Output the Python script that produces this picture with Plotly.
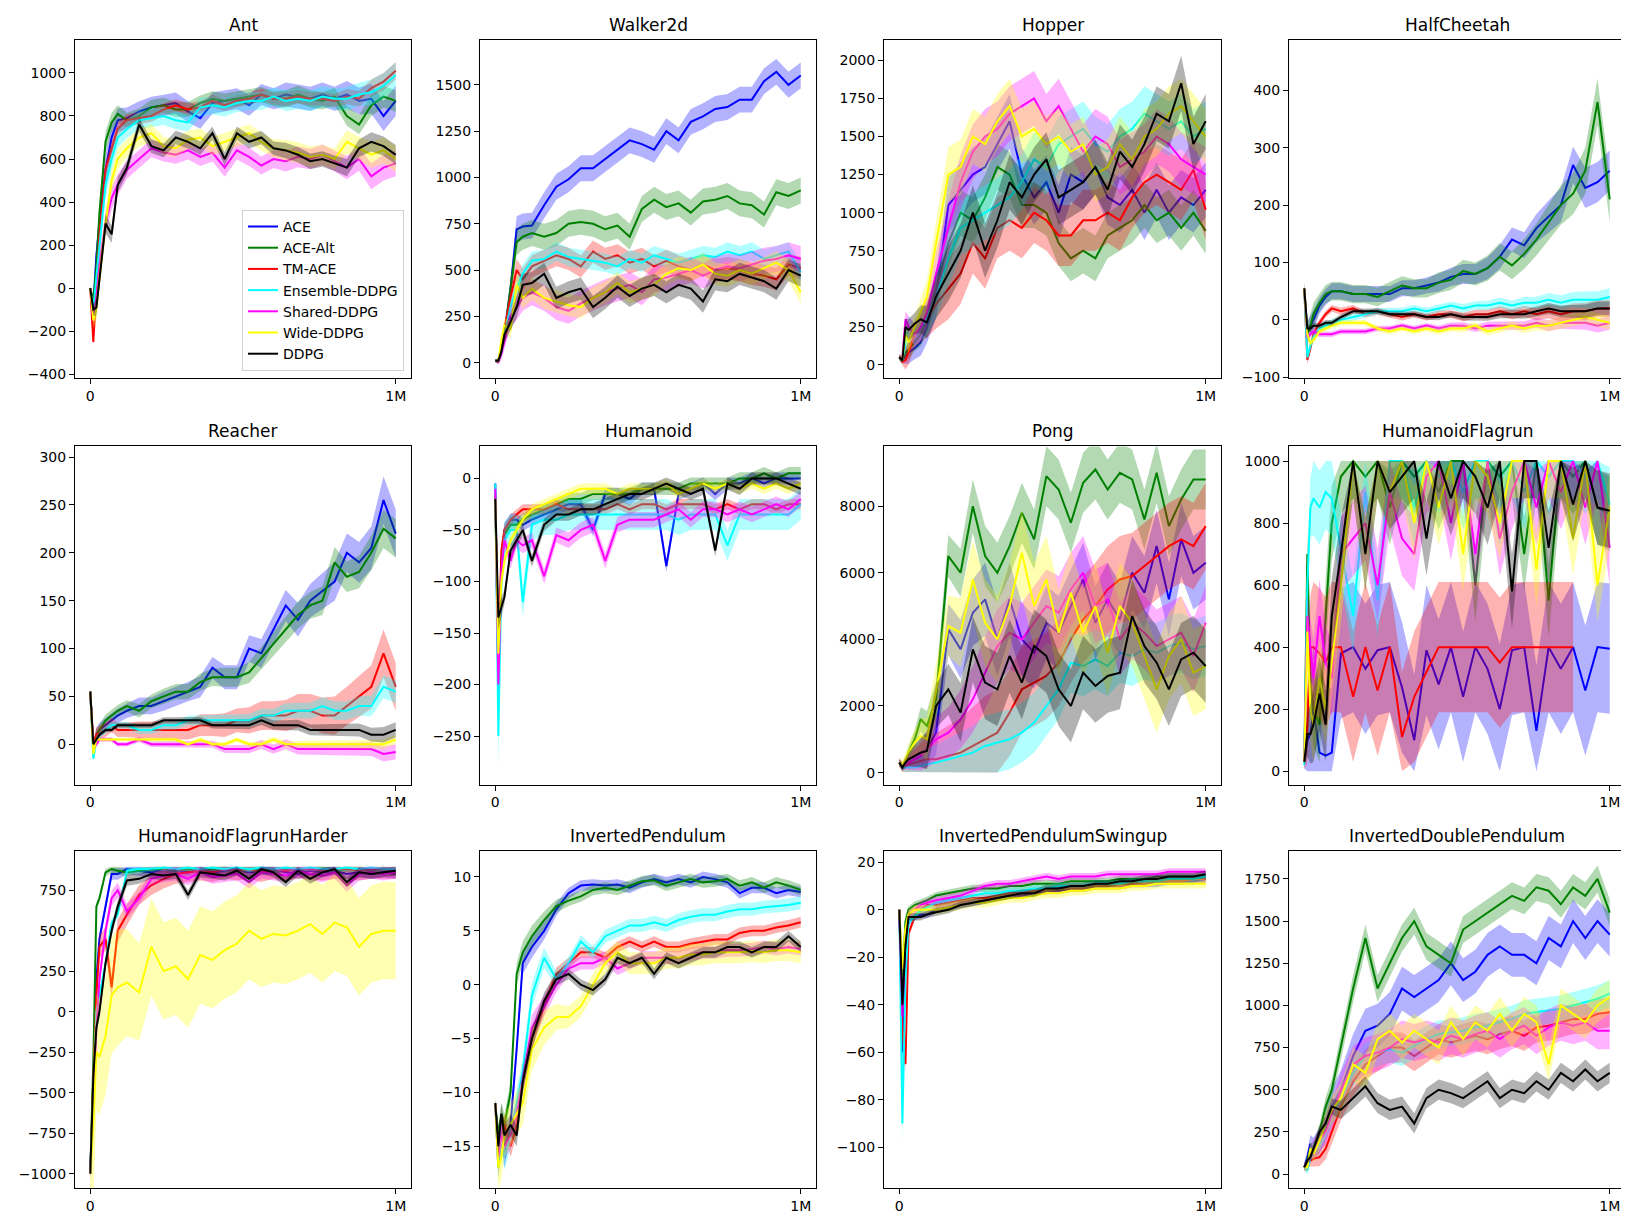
import plotly.graph_objects as go
from plotly.subplots import make_subplots

# passos de treino onde cada curva foi lida
STEPS = [0, 10000, 20000, 30000, 50000, 70000, 90000, 120000, 160000, 200000,
         240000, 280000, 320000, 360000, 400000, 440000, 480000, 520000, 560000, 600000,
         640000, 680000, 720000, 760000, 800000, 840000, 880000, 920000, 960000, 1000000]

SERIES = ["ACE", "ACE-Alt", "TM-ACE", "Ensemble-DDPG", "Shared-DDPG", "Wide-DDPG", "DDPG"]
COLORS = [(0, 0, 255), (0, 128, 0), (255, 0, 0), (0, 255, 255), (255, 0, 255), (255, 255, 0), (0, 0, 0)]

# ---- curvas médias (ordem: SERIES) ----
ANT = [
    [0, -80, 150, 300, 550, 700, 780, 790, 820, 840, 850, 860, 820, 790, 860, 870, 880, 850, 900, 880, 900, 890, 880, 900, 880, 900, 870, 880, 800, 870],
    [0, -60, 100, 350, 680, 770, 810, 780, 800, 840, 850, 830, 830, 860, 880, 870, 880, 890, 900, 880, 880, 900, 880, 870, 890, 800, 760, 850, 890, 870],
    [0, -250, 0, 250, 550, 650, 740, 780, 790, 800, 830, 850, 830, 840, 870, 850, 870, 880, 900, 880, 880, 890, 880, 880, 870, 890, 880, 930, 960, 1010],
    [0, -100, 50, 200, 480, 600, 700, 740, 780, 790, 800, 780, 770, 840, 850, 840, 860, 870, 870, 890, 870, 880, 870, 890, 880, 880, 900, 910, 940, 990],
    [0, -150, -50, 100, 300, 420, 480, 550, 600, 650, 630, 620, 640, 610, 630, 560, 640, 610, 570, 600, 590, 610, 600, 620, 590, 560, 600, 520, 560, 580],
    [0, -150, -100, 50, 300, 500, 600, 650, 700, 720, 660, 650, 690, 700, 660, 680, 700, 720, 680, 650, 640, 630, 610, 620, 600, 680, 650, 620, 640, 600],
    [0, -100, -90, 40, 300, 250, 480, 560, 760, 660, 640, 700, 680, 650, 720, 600, 720, 680, 700, 650, 640, 620, 590, 600, 580, 560, 650, 680, 660, 620],
]
WALKER = [
    [10, 10, 80, 150, 400, 720, 735, 740, 850, 950, 990, 1050, 1050, 1100, 1150, 1200, 1180, 1150, 1250, 1200, 1300, 1330, 1370, 1380, 1420, 1420, 1520, 1570, 1500, 1550],
    [10, 10, 80, 150, 400, 650, 680, 700, 680, 700, 750, 760, 750, 720, 740, 680, 830, 880, 840, 860, 810, 870, 880, 900, 860, 850, 800, 920, 900, 930],
    [10, 5, 80, 180, 350, 500, 450, 520, 550, 580, 560, 520, 600, 560, 580, 540, 560, 520, 550, 520, 500, 530, 500, 510, 500, 480, 470, 450, 530, 510],
    [10, 5, 60, 150, 300, 400, 480, 550, 560, 600, 570, 560, 550, 540, 520, 560, 540, 580, 560, 540, 560, 580, 570, 600, 580, 600, 560, 580, 600, 490],
    [10, 5, 50, 120, 250, 300, 350, 380, 350, 300, 280, 320, 350, 380, 400, 420, 380, 450, 460, 480, 500, 470, 500, 520, 510, 530, 550, 560, 580, 560],
    [10, 10, 120, 200, 180, 420, 350, 400, 350, 330, 310, 300, 350, 380, 430, 380, 400, 420, 480, 510, 500, 530, 480, 470, 500, 480, 510, 540, 500, 380],
    [10, 10, 60, 150, 220, 300, 420, 430, 480, 350, 380, 400, 300, 350, 410, 360, 400, 420, 380, 420, 400, 330, 450, 440, 480, 460, 440, 400, 500, 470],
]
HOPPER = [
    [50, 30, 60, 80, 110, 150, 250, 450, 1050, 1150, 1250, 1300, 1450, 1600, 1250, 1100, 1200, 1000, 1250, 1200, 1300, 1100, 1050, 1150, 1000, 1150, 1000, 1100, 1050, 1150],
    [50, 30, 80, 100, 150, 200, 300, 500, 800, 1000, 950, 1100, 1300, 1250, 1050, 1050, 1000, 800, 700, 750, 700, 850, 900, 950, 1050, 950, 1000, 900, 1000, 880],
    [50, 20, 30, 80, 200, 250, 300, 400, 500, 600, 800, 700, 900, 950, 900, 1000, 950, 850, 850, 950, 950, 1000, 950, 1100, 1200, 1250, 1200, 1150, 1280, 1020],
    [50, 30, 150, 250, 200, 250, 300, 450, 700, 900, 950, 1000, 1050, 1100, 1200, 1350, 1300, 1450, 1500, 1550, 1450, 1400, 1500, 1550, 1650, 1600, 1550, 1600, 1500, 1550],
    [50, 50, 300, 250, 200, 250, 350, 600, 900, 1200, 1400, 1500, 1550, 1650, 1700, 1750, 1600, 1700, 1550, 1400, 1500, 1450, 1300, 1350, 1400, 1500, 1450, 1350, 1300, 1250],
    [50, 40, 200, 150, 250, 350, 450, 800, 1250, 1300, 1500, 1450, 1600, 1700, 1500, 1550, 1450, 1500, 1400, 1450, 1250, 1300, 1450, 1350, 1500, 1550, 1650, 1700, 1600, 1500],
    [50, 30, 250, 230, 270, 300, 280, 450, 600, 750, 1000, 750, 950, 1200, 1100, 1250, 1350, 1100, 1150, 1200, 1300, 1150, 1400, 1300, 1450, 1650, 1600, 1850, 1450, 1600],
]
HALFCHEETAH = [
    [55, -20, -10, 0, 25, 40, 50, 50, 45, 45, 45, 45, 55, 55, 60, 65, 75, 80, 80, 90, 110, 140, 130, 160, 180, 200, 270, 230, 240, 260],
    [55, -25, -10, 10, 30, 45, 50, 50, 45, 45, 40, 50, 60, 55, 55, 65, 70, 85, 80, 90, 110, 95, 115, 140, 170, 200, 220, 260, 380, 210],
    [55, -70, -50, -25, -5, 10, 20, 15, 20, 10, 15, 10, 5, 10, 5, 10, 10, 5, 10, 10, 15, 10, 15, 10, 15, 10, 15, 15, 20, 20],
    [55, -65, -45, -30, -15, -10, -5, 0, 5, 10, 15, 15, 15, 20, 15, 20, 25, 20, 25, 25, 30, 25, 30, 30, 35, 30, 35, 35, 35, 40],
    [55, -30, -25, -20, -25, -25, -25, -20, -20, -20, -15, -15, -10, -15, -10, -15, -10, -10, -15, -10, -10, -10, -10, -5, -10, -5, -5, -5, -10, -5],
    [55, -25, -40, -35, -20, -15, -10, -5, -5, -5, -15, -20, -15, -20, -15, -20, -15, -15, -10, -20, -15, -10, -15, -10, -10, -5, 0, 5, 0, -5],
    [55, -15, -15, -10, -10, -5, -5, 5, 15, 15, 15, 10, 10, 10, 5, 5, 10, 5, 5, 5, 10, 10, 10, 15, 20, 15, 15, 15, 20, 20],
]
REACHER = [
    [55, -5, 10, 15, 20, 25, 30, 35, 40, 40, 45, 50, 55, 60, 80, 70, 70, 100, 95, 120, 145, 130, 150, 160, 170, 200, 190, 205, 255, 220],
    [55, -5, 10, 15, 25, 30, 35, 40, 35, 45, 50, 55, 55, 65, 70, 70, 70, 75, 90, 105, 120, 135, 145, 150, 190, 175, 180, 200, 225, 215],
    [55, 0, 10, 12, 15, 20, 15, 15, 15, 15, 15, 15, 15, 20, 20, 20, 25, 25, 30, 30, 30, 35, 35, 30, 30, 40, 50, 60, 95, 60],
    [55, -15, 5, 10, 15, 20, 20, 20, 15, 15, 20, 20, 25, 25, 25, 25, 25, 25, 30, 30, 35, 35, 35, 40, 35, 35, 40, 40, 60, 55],
    [55, -5, 0, 5, 5, 5, 0, 0, 5, 0, 0, 0, 0, 0, 0, -5, -5, -5, 0, -5, 0, -5, -5, -5, -5, -5, -5, -5, -10, -8],
    [55, -10, 5, 5, 5, 5, 5, 5, 5, 5, 5, 5, 0, 5, 0, 0, 5, 0, 0, 5, 0, 0, 0, 0, 0, 0, 0, 0, 0, 5],
    [55, 0, 5, 10, 15, 15, 20, 20, 20, 20, 25, 25, 25, 25, 20, 20, 20, 20, 25, 20, 20, 20, 15, 15, 15, 15, 15, 10, 10, 15],
]
HUMANOID = [
    [-5, -200, -80, -50, -40, -40, -45, -40, -35, -30, -25, -25, -50, -15, -15, -20, -10, -10, -85, -15, -10, -5, -15, -5, -5, 0, -5, 0, 0, 0],
    [-20, -180, -80, -55, -45, -45, -40, -35, -30, -25, -20, -20, -15, -15, -15, -15, -10, -10, -10, -10, -5, -5, -5, -5, 0, 0, 5, 0, 5, 5],
    [-15, -180, -70, -50, -40, -35, -30, -30, -30, -25, -30, -30, -30, -30, -25, -30, -25, -25, -30, -25, -25, -25, -30, -25, -30, -25, -25, -30, -25, -25],
    [-5, -250, -100, -60, -50, -50, -120, -45, -40, -40, -35, -35, -35, -35, -35, -35, -35, -35, -35, -40, -35, -35, -35, -65, -35, -35, -35, -35, -35, -25],
    [-10, -200, -90, -60, -80, -60, -65, -60, -95, -55, -60, -50, -45, -80, -45, -40, -40, -40, -35, -30, -40, -30, -30, -35, -30, -35, -30, -25, -30, -20],
    [-20, -170, -100, -80, -60, -50, -40, -30, -25, -20, -15, -10, -10, -10, -15, -10, -10, -10, -5, -15, -10, -5, -10, -5, -10, -5, -10, -5, -10, -5],
    [-20, -135, -125, -115, -70, -60, -50, -80, -45, -35, -35, -30, -30, -25, -20, -15, -15, -10, -5, -10, -15, -10, -70, -5, -10, 0, 0, 0, -5, -10],
]
PONG = [
    [300, 200, 300, 400, 500, 600, 700, 1200, 4300, 3700, 4800, 5200, 4000, 5200, 4000, 3600, 4500, 4200, 5000, 5800, 4500, 5200, 4600, 6000, 5400, 6800, 5200, 7000, 6000, 6300],
    [300, 200, 300, 600, 1000, 1600, 1400, 2200, 6500, 6000, 8000, 6500, 6000, 6800, 7800, 7000, 8900, 8500, 7500, 8700, 9100, 8500, 9000, 8800, 7600, 9000, 7400, 8200, 8800, 8800],
    [300, 150, 200, 250, 300, 350, 400, 400, 500, 600, 800, 1000, 1200, 1800, 2500, 2700, 2900, 3300, 4000, 4600, 5000, 5500, 5800, 5900, 6200, 6500, 6800, 7000, 6800, 7400],
    [300, 150, 150, 150, 150, 200, 250, 300, 400, 500, 600, 800, 900, 1000, 1200, 1500, 2000, 2500, 3300, 3200, 3400, 3200, 3600, 3500, 3700, 3600, 3800, 3900, 3700, 3800],
    [300, 200, 250, 300, 400, 500, 700, 1000, 1200, 1600, 2200, 3000, 3800, 4200, 4000, 4500, 5000, 4800, 5500, 6000, 5000, 5200, 4000, 4500, 4200, 3800, 4000, 4200, 3500, 4500],
    [300, 250, 400, 600, 900, 1100, 1000, 2500, 4400, 4200, 5800, 4500, 4000, 5000, 6600, 5000, 5800, 4200, 5400, 4200, 5000, 3600, 5000, 4500, 3500, 2500, 3500, 4000, 3000, 3200],
    [300, 150, 300, 400, 500, 600, 650, 2000, 2500, 1800, 3700, 2700, 2500, 3500, 2700, 3800, 3500, 2500, 2000, 3000, 2600, 2900, 3000, 4700, 3800, 3300, 2500, 3400, 3600, 3200],
]
FLAGRUN = [
    [30, 100, 120, 200, 60, 50, 60, 380, 400, 330, 390, 400, 270, 100, 390, 280, 400, 240, 400, 330, 200, 390, 400, 130, 400, 330, 400, 260, 400, 395],
    [30, 700, 300, 200, 150, 500, 800, 950, 1000, 950, 1000, 850, 1000, 950, 1000, 900, 1000, 1000, 600, 1000, 950, 1000, 700, 1000, 550, 1000, 950, 1000, 850, 830],
    [30, 150, 400, 400, 380, 350, 400, 400, 240, 400, 260, 400, 110, 240, 320, 400, 400, 400, 400, 400, 350, 400, 400, 400, 400, 400, 400, None, None, None],
    [20, 600, 850, 880, 850, 900, 880, 720, 500, 900, 550, 1000, 1000, 850, 1000, 950, 1000, 900, 1000, 1000, 850, 1000, 900, 1000, 950, 1000, 1000, 950, 1000, 860],
    [30, 500, 400, 300, 500, 350, 300, 700, 750, 800, 600, 900, 750, 700, 950, 1000, 800, 1000, 700, 1000, 750, 900, 1000, 850, 1000, 900, 1000, 850, 1000, 720],
    [30, 450, 200, 150, 300, 200, 350, 600, 1000, 700, 1000, 900, 1000, 800, 1000, 850, 1000, 700, 1000, 950, 800, 1000, 1000, 650, 1000, 1000, 750, 1000, 600, 850],
    [30, 120, 120, 150, 250, 150, 500, 700, 1000, 700, 1000, 900, 950, 1000, 750, 1000, 880, 1000, 950, 850, 1000, 580, 1000, 1000, 720, 1000, 860, 1000, 850, 840],
]
FLAGRUN_HARDER = [
    [-1000, -400, 200, 450, 650, 850, 850, 880, 870, 860, 880, 870, 860, 880, 860, 870, 880, 860, 870, 880, 860, 850, 870, 860, 870, 850, 860, 850, 860, 850],
    [-1000, -300, 650, 700, 860, 880, 870, 860, 870, 880, 880, 870, 880, 870, 880, 880, 870, 880, 880, 870, 880, 870, 880, 880, 870, 880, 880, 870, 880, 850],
    [-1000, -500, 100, 400, 450, 150, 500, 600, 720, 780, 820, 850, 860, 870, 860, 880, 870, 880, 860, 880, 870, 880, 880, 870, 880, 880, 870, 880, 880, 880],
    [-1000, -500, 0, 100, 300, 550, 600, 870, 880, 880, 890, 880, 890, 880, 890, 880, 890, 880, 890, 880, 890, 880, 890, 880, 880, 890, 880, 890, 880, 880],
    [-1000, -600, -100, 200, 500, 700, 750, 620, 700, 820, 840, 850, 820, 860, 830, 840, 850, 800, 860, 850, 840, 870, 850, 840, 860, 780, 850, 860, 850, 860],
    [-1000, -700, -250, -280, -150, 100, 150, 180, 120, 400, 250, 280, 200, 350, 320, 380, 420, 500, 450, 480, 470, 500, 540, 480, 550, 520, 400, 480, 500, 500],
    [-1000, -400, -100, 0, 300, 500, 650, 810, 820, 850, 840, 850, 720, 860, 850, 840, 870, 820, 880, 860, 800, 870, 820, 860, 880, 800, 860, 850, 860, 870],
]
PENDULUM = [
    [-11, -15, -14, -16, -13, -6, 2, 3.5, 5, 7, 8.5, 9.2, 9.3, 9.2, 9.3, 9.0, 9.5, 9.8, 9.5, 9.8, 9.5, 10.0, 9.8, 9.5, 8.5, 9.0, 9.0, 8.5, 8.8, 8.6],
    [-11, -14, -12, -13, -10, 1, 3, 4.5, 6, 7.3, 7.8, 8.2, 8.8, 9.0, 8.8, 9.2, 9.6, 9.7, 9.2, 9.5, 9.8, 9.5, 9.6, 9.8, 9.2, 9.5, 9.0, 9.5, 9.2, 8.8],
    [-11, -17, -14, -13, -15, -13, -9, -5, -2, 1, 2, 3, 3, 2.5, 3.5, 4.0, 3.5, 4.0, 3.5, 3.5, 3.8, 4.0, 4.2, 4.2, 4.8, 5.0, 5.0, 5.3, 5.5, 5.8],
    [-11, -17, -14, -16, -14, -11, -8, -1, 2.5, 0.5, 2, 4, 3, 4.5, 5.0, 5.5, 5.5, 5.8, 5.5, 6.0, 6.3, 6.5, 6.5, 6.8, 7.0, 7.0, 7.2, 7.3, 7.4, 7.6],
    [-11, -16, -14, -15, -14, -12, -9, -4, -2, 0, 1.5, 2.0, 2.0, 2.5, 1.5, 2.0, 2.5, 2.5, 2.5, 2.5, 2.8, 3.0, 3.0, 3.2, 3.2, 3.3, 3.5, 3.3, 3.5, 3.3],
    [-11, -17, -16, -14, -13, -12, -11, -6, -4, -3, -3, -2, 0, 2, 3, 2, 2, 2, 2.5, 2.5, 2.8, 2.8, 3.0, 3.0, 3.0, 3.1, 3.0, 3.2, 3.2, 3.0],
    [-11, -15, -12, -14, -13, -14, -9, -5, -1.5, 0.5, 1, 0, -0.5, 0.5, 2.5, 2, 2.5, 1, 2.5, 2, 2.5, 3, 3, 3.5, 3.5, 3.0, 3.5, 3.5, 4.5, 3.5],
]
SWINGUP = [
    [0, -60, -20, -5, -3, -2, -2, 0, 1, 2, 3, 4, 5, 6, 6, 7, 8, 8, 9, 9, 10, 10, 10, 11, 11, 11, 12, 12, 12, 13],
    [0, -30, -5, 0, 2, 3, 4, 6, 7, 8, 9, 9, 9, 10, 10, 11, 11, 11, 12, 12, 12, 12, 13, 13, 13, 14, 14, 14, 14, 14],
    [0, -50, -65, -10, -3, 0, 2, 2, 3, 4, 5, 5, 6, 7, 7, 8, 8, 9, 9, 9, 10, 10, 10, 11, 11, 12, 12, 12, 13, 13],
    [0, -90, -30, -5, -3, 0, 1, 3, 4, 5, 6, 7, 7, 8, 8, 9, 9, 10, 10, 10, 11, 11, 11, 12, 12, 12, 13, 13, 13, 14],
    [0, -45, -10, -2, 0, 2, 3, 4, 5, 6, 8, 10, 11, 11, 12, 13, 14, 13, 14, 14, 14, 15, 15, 15, 15, 15, 16, 16, 16, 16],
    [0, -25, -8, -2, 0, 0, 0, 0, 1, 2, 3, 3, 4, 5, 5, 6, 7, 7, 8, 8, 9, 9, 9, 10, 10, 11, 11, 11, 11, 11],
    [0, -40, -15, -3, -3, -3, -2, -1, 0, 2, 3, 4, 5, 6, 7, 7, 9, 9, 10, 10, 11, 11, 12, 12, 13, 13, 14, 14, 14, 15],
]
DOUBLE_PENDULUM = [
    [40, 100, 180, 150, 200, 300, 400, 500, 700, 850, 880, 950, 1100, 1050, 1100, 1150, 1250, 1150, 1200, 1300, 1350, 1300, 1300, 1250, 1400, 1350, 1500, 1400, 1500, 1420],
    [40, 80, 150, 150, 250, 400, 500, 750, 1100, 1400, 1100, 1250, 1400, 1500, 1350, 1300, 1250, 1450, 1500, 1550, 1600, 1650, 1620, 1700, 1680, 1600, 1700, 1650, 1750, 1550],
    [40, 60, 80, 90, 100, 150, 250, 400, 550, 650, 700, 750, 750, 700, 750, 800, 780, 800, 820, 800, 830, 850, 820, 870, 880, 900, 920, 920, 950, 960],
    [40, 20, 100, 150, 180, 250, 350, 450, 600, 700, 720, 740, 720, 760, 800, 830, 840, 850, 870, 880, 900, 920, 950, 960, 970, 980, 1000, 1020, 1040, 1070],
    [40, 50, 120, 150, 200, 250, 350, 500, 650, 700, 720, 750, 800, 780, 800, 780, 820, 800, 830, 850, 800, 850, 880, 820, 870, 900, 880, 900, 850, 850],
    [40, 40, 150, 120, 200, 300, 380, 450, 650, 600, 800, 850, 780, 850, 800, 750, 900, 800, 900, 850, 950, 850, 950, 900, 650, 1000, 950, 900, 1000, 1050],
    [40, 80, 100, 150, 250, 300, 400, 380, 450, 520, 420, 380, 400, 300, 450, 500, 480, 450, 500, 550, 450, 500, 480, 550, 500, 600, 550, 620, 550, 600],
]

# ---- largura relativa da faixa ao longo do treino, e meia-largura de cada série ----
SPREAD_ANT = [0.1, 0.6, 0.9, 1, 1, 0.9, 0.8, 0.7, 0.7, 0.7, 0.7, 0.7, 0.7, 0.7, 0.7, 0.7, 0.7, 0.7, 0.7, 0.7, 0.8, 0.8, 0.8, 0.8, 0.8, 0.9, 0.9, 1, 1, 1]
SPREAD_WALKER = [0.1, 0.2, 0.5, 0.7, 0.8, 1, 1, 1, 1, 1, 1, 1, 1, 1, 1, 1, 1, 1, 1, 1, 1, 1, 1, 1, 1, 1, 1, 1, 1, 1]
SPREAD_HOPPER = [0.1, 0.1, 0.3, 0.4, 0.4, 0.5, 0.6, 0.8, 1, 1, 1, 1, 1, 1, 1, 1, 1, 1, 1, 1, 1, 1, 1, 1, 1, 1, 1, 1, 1, 1]
SPREAD_HALFCHEETAH = [0.3, 0.5, 0.5, 0.5, 0.4, 0.4, 0.4, 0.4, 0.4, 0.4, 0.4, 0.4, 0.4, 0.4, 0.4, 0.45, 0.45, 0.5, 0.5, 0.55, 0.6, 0.6, 0.65, 0.7, 0.8, 0.85, 0.9, 1, 1, 1]
SPREAD_REACHER = [0.1, 0.2, 0.3, 0.3, 0.3, 0.3, 0.3, 0.3, 0.35, 0.35, 0.4, 0.4, 0.4, 0.45, 0.45, 0.5, 0.5, 0.55, 0.6, 0.6, 0.65, 0.7, 0.7, 0.75, 0.8, 0.8, 0.85, 0.9, 1, 1]
SPREAD_HUMANOID = [0.5, 1, 0.8, 0.6, 0.5, 0.5, 0.5, 0.5, 0.5, 0.5, 0.5, 0.5, 0.5, 0.5, 0.5, 0.5, 0.5, 0.5, 0.5, 0.5, 0.5, 0.5, 0.5, 0.5, 0.5, 0.5, 0.5, 0.5, 0.5, 0.5]
SPREAD_PONG = [0.1, 0.1, 0.15, 0.2, 0.3, 0.4, 0.5, 0.6, 0.7, 0.8, 0.9, 1, 1, 1, 1, 1, 1, 1, 1, 1, 1, 1, 1, 1, 1, 1, 1, 1, 1, 1]
SPREAD_FLAGRUN = [0.1, 0.6, 0.8, 1, 1, 1, 1, 1, 1, 1, 1, 1, 1, 1, 1, 1, 1, 1, 1, 1, 1, 1, 1, 1, 1, 1, 1, 1, 1, 1]
SPREAD_FLAGRUN_HARDER = [0.5, 0.8, 0.6, 0.6, 0.6, 0.6, 0.6, 0.55, 0.5, 0.5, 0.5, 0.5, 0.5, 0.5, 0.5, 0.5, 0.5, 0.5, 0.5, 0.5, 0.5, 0.5, 0.5, 0.5, 0.5, 0.5, 0.5, 0.5, 0.5, 0.5]
SPREAD_PENDULUM = [0.3, 1, 1, 1, 1, 1, 1, 1, 0.8, 0.6, 0.5, 0.5, 0.5, 0.5, 0.5, 0.5, 0.5, 0.5, 0.5, 0.5, 0.5, 0.5, 0.5, 0.5, 0.5, 0.5, 0.5, 0.5, 0.5, 0.5]
SPREAD_SWINGUP = [0.2, 5, 2, 1, 1, 1, 1, 1, 1, 1, 1, 1, 1, 1, 1, 1, 1, 1, 1, 1, 1, 1, 1, 1, 1, 1, 1, 1, 1, 1]
SPREAD_DOUBLE = [0.2, 0.3, 0.4, 0.5, 0.6, 0.7, 0.8, 0.9, 1, 1, 1, 1, 1, 1, 1, 1, 1, 1, 1, 1, 1, 1, 1, 1, 1, 1, 1, 1, 1, 1]

HW_ANT = [70, 50, 40, 60, 60, 60, 45]
HW_WALKER = [70, 70, 60, 50, 70, 60, 60]
HW_HOPPER = [180, 150, 200, 180, 180, 180, 180]
HW_HALFCHEETAH = [35, 40, 15, 15, 12, 12, 12]
HW_REACHER = [25, 20, 25, 12, 8, 5, 8]
HW_HUMANOID = [12, 12, 10, 30, 15, 10, 12]
HW_PONG = [1100, 900, 1300, 900, 1100, 1300, 1100]
HW_FLAGRUN = [210, 120, 210, 120, 120, 120, 120]
HW_FLAGRUN_HARDER = [60, 40, 120, 40, 80, 600, 60]
HW_PENDULUM = [1.0, 1.0, 1.0, 1.2, 1.2, 2.0, 1.0]
HW_SWINGUP = [1.5, 1.5, 1.5, 1.5, 1.5, 2.0, 1.5]
HW_DOUBLE = [130, 80, 90, 80, 110, 100, 60]

# título, dados, perfil, meia-largura, faixa do eixo y, dtick, limites da faixa
PAINEIS = [
    ("Ant", ANT, SPREAD_ANT, HW_ANT, [-417, 1154], 200, None),
    ("Walker2d", WALKER, SPREAD_WALKER, HW_WALKER, [-82, 1743], 250, None),
    ("Hopper", HOPPER, SPREAD_HOPPER, HW_HOPPER, [-85, 2135], 250, None),
    ("HalfCheetah", HALFCHEETAH, SPREAD_HALFCHEETAH, HW_HALFCHEETAH, [-101, 488], 100, None),
    ("Reacher", REACHER, SPREAD_REACHER, HW_REACHER, [-42, 311], 50, None),
    ("Humanoid", HUMANOID, SPREAD_HUMANOID, HW_HUMANOID, [-297, 31], 50, None),
    ("Pong", PONG, SPREAD_PONG, HW_PONG, [-358, 9791], 2000, (0, None)),
    ("HumanoidFlagrun", FLAGRUN, SPREAD_FLAGRUN, HW_FLAGRUN, [-43, 1047], 200, (0, 1000)),
    ("HumanoidFlagrunHarder", FLAGRUN_HARDER, SPREAD_FLAGRUN_HARDER, HW_FLAGRUN_HARDER, [-1090, 991], 250, (None, 895)),
    ("InvertedPendulum", PENDULUM, SPREAD_PENDULUM, HW_PENDULUM, [-18.9, 12.4], 5, None),
    ("InvertedPendulumSwingup", SWINGUP, SPREAD_SWINGUP, HW_SWINGUP, [-117.2, 24.7], 20, None),
    ("InvertedDoublePendulum", DOUBLE_PENDULUM, SPREAD_DOUBLE, HW_DOUBLE, [-84, 1915], 250, None),
]

W, H = 1629, 1221
COLS_PX = [(67, 403), (472, 808), (876, 1213), (1281, 1617)]
ROWS_PX = [(32, 372), (441, 781), (848, 1187)]


def rgba(c, a):
    return f"rgba({c[0]},{c[1]},{c[2]},{a})"


def limita(v, lim):
    if lim is None:
        return v
    lo, hi = lim
    if lo is not None:
        v = max(v, lo)
    if hi is not None:
        v = min(v, hi)
    return v


fig = make_subplots(rows=3, cols=4)

for idx, (titulo, dados, perfil, meia, yr, dt, lim) in enumerate(PAINEIS):
    r, c = idx // 4 + 1, idx % 4 + 1
    for s, serie in enumerate(dados):
        xs = [x for x, v in zip(STEPS, serie) if v is not None]
        ys = [v for v in serie if v is not None]
        ps = [p for p, v in zip(perfil, serie) if v is not None]
        sup = [limita(v + meia[s] * p, lim) for v, p in zip(ys, ps)]
        inf = [limita(v - meia[s] * p, lim) for v, p in zip(ys, ps)]
        fig.add_trace(go.Scatter(
            x=xs + xs[::-1], y=sup + inf[::-1], fill="toself",
            fillcolor=rgba(COLORS[s], 0.3), line=dict(width=0),
            mode="lines", hoverinfo="skip", showlegend=False,
        ), row=r, col=c)
        fig.add_trace(go.Scatter(
            x=xs, y=ys, mode="lines", name=SERIES[s],
            line=dict(color=rgba(COLORS[s], 1), width=2),
            showlegend=(idx == 0), legendrank=s + 1,
        ), row=r, col=c)

    x0, x1 = COLS_PX[c - 1]
    y0, y1 = ROWS_PX[r - 1]
    eixo = "" if idx == 0 else str(idx + 1)
    fig.layout["xaxis" + eixo].update(
        domain=[x0 / W, x1 / W], range=[-50000, 1050000],
        tickvals=[0, 1000000], ticktext=["0", "1M"],
    )
    fig.layout["yaxis" + eixo].update(
        domain=[1 - y1 / H, 1 - y0 / H], range=yr, dtick=dt, tick0=0,
        exponentformat="none", separatethousands=False,
    )
    fig.add_annotation(
        text=titulo, x=(x0 + x1) / 2 / W, y=1 - y0 / H, xref="paper", yref="paper",
        xanchor="center", yanchor="bottom", yshift=3, showarrow=False,
        font=dict(size=17, color="black"),
    )

fig.update_xaxes(showgrid=False, zeroline=False, showline=True, linecolor="black",
                 linewidth=1, mirror=True, ticks="outside", ticklen=5, tickcolor="black",
                 tickfont=dict(size=14, color="black"))
fig.update_yaxes(showgrid=False, zeroline=False, showline=True, linecolor="black",
                 linewidth=1, mirror=True, ticks="outside", ticklen=5, tickcolor="black",
                 tickfont=dict(size=14, color="black"))

fig.update_layout(
    width=W, height=H,
    margin=dict(l=0, r=0, t=0, b=0),
    paper_bgcolor="white", plot_bgcolor="white",
    font=dict(family="DejaVu Sans", color="black"),
    legend=dict(
        x=396 / W, y=1 - 365 / H, xanchor="right", yanchor="bottom",
        bgcolor="rgba(255,255,255,0.8)", bordercolor="#d0d0d0", borderwidth=1,
        font=dict(size=14), traceorder="normal",
    ),
)

fig.write_html("out.html")
